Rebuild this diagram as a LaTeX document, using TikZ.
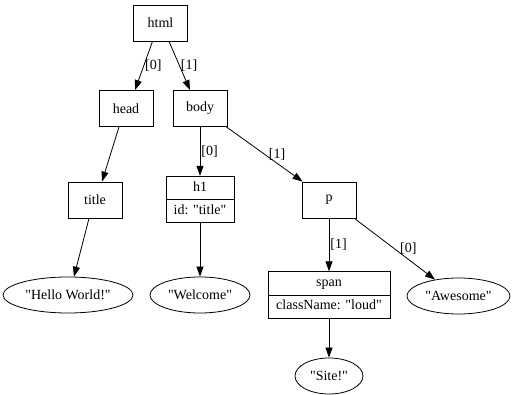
\documentclass[tikz,border=0pt]{standalone}
\usepackage{fontspec}
\setmainfont{Liberation Serif}
\usepackage{tikz}
\usetikzlibrary{shapes,shapes.multipart,arrows.meta,positioning}

\newcommand{\dotfont}{\fontsize{14pt}{16pt}\selectfont}
\newcommand{\strlit}[1]{\textquotedbl#1\textquotedbl}

\tikzstyle{elem}   = [rectangle, draw=black, line width=0.8pt, fill=none, text=black, text centered, font=\dotfont, minimum width=54pt, minimum height=36pt, inner sep=0pt]
\tikzstyle{record} = [rectangle split, rectangle split parts=2, draw=black, line width=0.8pt, text=black, font=\dotfont, inner xsep=4pt, inner ysep=3.25pt]
\tikzstyle{leaf}   = [ellipse, draw=black, line width=0.8pt, text=black, font=\dotfont, minimum height=36pt, inner sep=0pt]
\tikzstyle{tedge}  = [draw, line width=0.8pt, -{Triangle[length=10pt,width=7pt]}]
\tikzstyle{idx}    = [font=\dotfont, inner sep=1pt, right]

\begin{document}
\begin{tikzpicture}[on grid]

\useasboundingbox (0,0) rectangle (515pt,-395pt);

% element nodes ==========================

% root
\node[elem] (html) at (160.5pt,-23pt) {html};

% children of html
\node[elem, below left=85.5pt and 34.5pt of html] (head) {head};
\node[elem, below right=85.5pt and 39.5pt of html] (body) {body};

% next level
\node[elem, below left=91.5pt and 31pt of head] (title) {title};
\node[record, below=91pt of body, minimum width=68pt] (h1) {\strut h1 \nodepart{two} \strut id: \strlit{title}};
\node[elem, below right=91.5pt and 129pt of body] (p) {p};

% text leaves and span
\node[leaf, below left=95pt and 27pt of title, minimum width=130pt] (hello) {\strlit{Hello World!}};
\node[leaf, below=95.5pt of h1, minimum width=100pt] (welcome) {\strlit{Welcome}};
\node[record, below=95pt of p, minimum width=122pt] (span) {\strut span \nodepart{two} \strut className: \strlit{loud}};
\node[leaf, below right=96pt and 129.5pt of p, minimum width=103pt] (awesome) {\strlit{Awesome}};
\node[leaf, below=81pt of span, minimum width=68pt] (site) {\strlit{Site!}};


% edges html
\path[tedge] ([xshift=-8pt]html.south) -- node[idx] {[0]} ([xshift=9pt]head.north);
\path[tedge] ([xshift=8.5pt]html.south) -- node[idx] {[1]} ([xshift=-10pt]body.north);

% edges head
\path[tedge] ([xshift=-7pt]head.south) -- ([xshift=7pt]title.north);
\path[tedge] ([xshift=-6pt]title.south) -- (hello.72);

% edges body
\path[tedge] (body.south) -- node[idx] {[0]} (h1.north);
\path[tedge] ([xshift=-1pt]body.south east) -- node[idx, inner sep=4pt] {[1]} ([xshift=1pt]p.north west);
\path[tedge] (h1.south) -- (welcome.north);

% edges p
\path[tedge] (p.south) -- node[idx] {[1]} (span.north);
\path[tedge] ([xshift=-2pt]p.south east) -- node[idx, inner sep=5pt] {[0]} (awesome.145);
\path[tedge] (span.south) -- (site.north);

\end{tikzpicture}
\end{document}
